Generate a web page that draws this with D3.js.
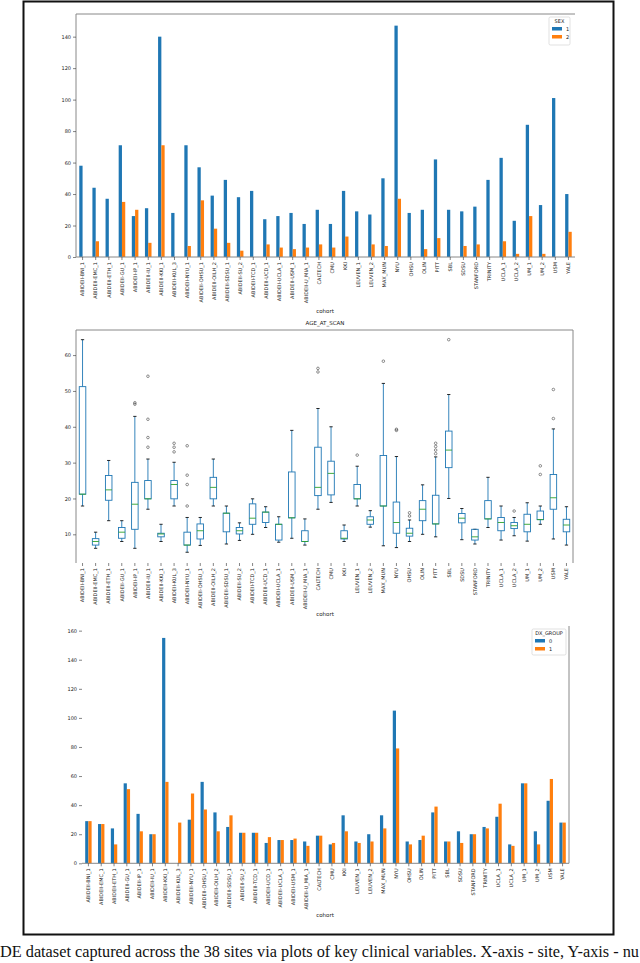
<!DOCTYPE html>
<html>
<head>
<meta charset="utf-8">
<script src="https://cdn.jsdelivr.net/npm/d3@7"></script>
<style>
  body { margin: 0; background: #fff; }
  svg text { font-family: "DejaVu Sans", sans-serif; }
</style>
</head>
<body>
<script>
// sites (x categories shared by the three panels)
const sites = ["ABIDEII-BNI_1","ABIDEII-EMC_1","ABIDEII-ETH_1","ABIDEII-GU_1","ABIDEII-IP_1","ABIDEII-IU_1",
  "ABIDEII-KKI_1","ABIDEII-KUL_3","ABIDEII-NYU_1","ABIDEII-OHSU_1","ABIDEII-OILH_2","ABIDEII-SDSU_1",
  "ABIDEII-SU_2","ABIDEII-TCD_1","ABIDEII-UCD_1","ABIDEII-UCLA_1","ABIDEII-USM_1","ABIDEII-U_MIA_1",
  "CALTECH","CMU","KKI","LEUVEN_1","LEUVEN_2","MAX_MUN","NYU","OHSU","OLIN","PITT","SBL","SDSU",
  "STANFORD","TRINITY","UCLA_1","UCLA_2","UM_1","UM_2","USM","YALE"];

// SEX counts
const sex1 = [58,44,37,71,26,31,140,28,71,57,39,49,38,42,24,26,28,21,30,21,42,29,27,50,147,28,30,62,30,29,32,49,63,23,84,33,101,40];
const sex2 = [0,10,0,35,30,9,71,0,7,36,18,9,4,0,8,6,5,6,8,6,13,0,8,7,37,0,5,12,0,7,8,0,10,2,26,2,0,16];

// DX_GROUP counts
const dx0 = [29,27,24,55,34,20,155,0,30,56,35,25,21,21,14,16,16,15,19,13,33,15,20,33,105,15,16,35,15,22,20,25,32,13,55,22,43,28];
const dx1 = [29,27,13,51,22,20,56,28,48,37,22,33,21,21,18,16,17,12,19,14,22,14,15,24,79,13,19,39,15,14,20,24,41,12,55,13,58,28];

// AGE_AT_SCAN box statistics
const ageLo  = [17.9,6.1,13.8,8.0,6.1,17.0,8.0,17.9,5.0,6.9,17.9,7.3,8.3,10.0,11.9,7.8,8.9,7.0,17.0,18.9,8.0,17.9,12.0,6.8,6.3,8.0,10.0,9.3,20.0,8.5,7.3,11.9,8.4,9.6,8.1,12.8,8.7,7.0];
const ageQ1  = [21.2,7.0,19.5,8.9,11.4,19.9,9.3,19.9,7.0,8.7,19.9,10.7,10.1,12.8,13.3,8.4,14.6,8.0,20.8,21.0,8.7,19.9,12.8,17.9,10.3,9.5,13.8,12.9,28.6,13.2,8.4,14.3,11.0,11.6,10.7,14.1,17.0,10.7];
const ageMed = [21.2,8.0,22.4,10.6,18.4,19.9,10.1,23.9,7.0,11.0,23.1,15.9,11.0,14.5,16.2,12.8,14.6,8.0,23.1,27.0,8.9,19.9,14.0,17.9,13.3,10.3,17.0,12.9,33.5,14.5,9.3,14.3,13.3,12.4,12.8,14.1,20.2,12.6];
const ageQ3  = [51.2,8.8,26.4,11.9,24.5,25.0,10.3,25.0,10.6,12.9,25.9,15.9,11.9,18.5,16.2,12.8,27.4,11.0,34.3,30.4,11.0,23.9,14.9,32.0,19.0,11.7,19.4,20.9,38.8,15.8,11.4,19.4,14.7,13.3,15.6,16.5,26.7,14.2];
const ageHi  = [64.3,10.6,30.6,13.8,42.9,31.0,12.8,30.1,14.7,14.7,31.0,17.9,13.2,19.9,17.7,14.9,39.0,14.3,45.1,40.0,12.6,29.0,16.6,52.1,31.7,14.0,23.8,31.6,49.0,17.2,11.4,25.9,17.9,14.7,18.8,17.9,39.4,17.7];
const ageOut = [[],[],[],[],[46.3,46.7],[54.1,42.1,37.0,34.3],[],[35.4,34.3,33.0],[34.7,26.5,23.9,17.9],[],[],[],[],[],[],[],[],[],
  [56.3,55.3],[],[],[32.1],[],[58.3],[39.0,39.3],[15.1,16.0],[],[35.4,34.5,33.5,32.5],[64.3],[],[],[],[],[16.5],[],[29.1,26.7],[42.3,50.4],[]];

const sexTicks = [0,20,40,60,80,100,120,140];
const ageTicks = [10,20,30,40,50,60];
const dxTicks = [0,20,40,60,80,100,120,140,160];

const blue = "#1f77b4", orange = "#ff7f0e", green = "#2ca02c", spine = "#888";

const svg = d3.select("body").append("svg")
  .attr("width", 640).attr("height", 963);
svg.append("rect").attr("width", 640).attr("height", 963).attr("fill", "#fff");

// figure frame
svg.append("rect").attr("x", 23.5).attr("y", 1.5).attr("width", 590).attr("height", 933)
  .attr("fill", "none").attr("stroke", "#111").attr("stroke-width", 2);

function yAxis(g, y, left, ticks) {
  const ax = g.append("g").attr("transform", `translate(${left},0)`)
    .call(d3.axisLeft(y).tickValues(ticks).tickSize(3).tickPadding(2));
  ax.select(".domain").remove();
  ax.selectAll("text").attr("font-size", 5).attr("fill", "#222");
  ax.selectAll("line").attr("stroke", "#333").attr("stroke-width", 0.6);
}

function xAxis(g, x, bottom) {
  const ax = g.append("g").attr("transform", `translate(0,${bottom})`)
    .call(d3.axisBottom(x).tickSize(3).tickPadding(2));
  ax.select(".domain").remove();
  ax.selectAll("line").attr("stroke", "#333").attr("stroke-width", 0.6);
  ax.selectAll("text")
    .attr("font-size", 5).attr("fill", "#222")
    .attr("transform", "rotate(-90)")
    .attr("text-anchor", "end")
    .attr("x", -5).attr("y", 0).attr("dy", "0.35em");
}

function spines(g, box, which) {
  const [l, t, r, b] = box;
  const seg = { left: [l, t, l, b], right: [r, t, r, b], top: [l, t, r, t], bottom: [l, b, r, b] };
  which.forEach(k => {
    const s = seg[k];
    g.append("line").attr("x1", s[0]).attr("y1", s[1]).attr("x2", s[2]).attr("y2", s[3])
      .attr("stroke", spine).attr("stroke-width", 1);
  });
}

function legend(g, x, y, w, h, title, labels) {
  g.append("rect").attr("x", x).attr("y", y).attr("width", w).attr("height", h).attr("rx", 1.5)
    .attr("fill", "#fff").attr("stroke", "#ccc").attr("stroke-width", 0.6);
  g.append("text").attr("x", x + w / 2).attr("y", y + 5.5).attr("text-anchor", "middle")
    .attr("font-size", 5).attr("fill", "#222").text(title);
  [blue, orange].forEach((c, i) => {
    g.append("rect").attr("x", x + 3).attr("y", y + 10 + i * 8).attr("width", 10).attr("height", 3.5).attr("fill", c);
    g.append("text").attr("x", x + 17).attr("y", y + 13.5 + i * 8)
      .attr("font-size", 5).attr("fill", "#222").text(labels[i]);
  });
}

function barChart(o) {
  const g = svg.append("g");
  const x = d3.scaleBand().domain(sites).range([o.left, o.right]);
  const y = d3.scaleLinear().domain([0, o.ymax]).range([o.bottom, o.top]);
  const bw = x.bandwidth();
  [[o.a, blue, 0.25], [o.b, orange, 0.5]].forEach(([vals, col, off]) => {
    g.selectAll(null).data(vals).enter().append("rect")
      .attr("x", (d, i) => x(sites[i]) + bw * off)
      .attr("y", d => y(d))
      .attr("width", bw * 0.25)
      .attr("height", d => y(0) - y(d))
      .attr("fill", col);
  });
  spines(g, [o.left, o.top, o.right, o.bottom], o.spines);
  yAxis(g, y, o.left, o.ticks);
  xAxis(g, x, o.bottom);
  g.append("text").attr("x", 325).attr("y", o.labelY).attr("text-anchor", "middle")
    .attr("font-size", 5.5).attr("fill", "#222").text("cohort");
  legend(g, o.lx, o.ly, o.lw, o.lh, o.ltitle, o.llabels);
}

barChart({ left: 76, right: 575, top: 14, bottom: 257, ymax: 154.4, a: sex1, b: sex2, ticks: sexTicks,
  spines: ["left", "top", "bottom"], labelY: 313, lx: 549, ly: 17, lw: 21, lh: 28, ltitle: "SEX", llabels: ["1", "2"] });

barChart({ left: 82, right: 569, top: 626, bottom: 863.3, ymax: 163.2, a: dx0, b: dx1, ticks: dxTicks,
  spines: ["right", "bottom"], labelY: 917, lx: 532, ly: 629, lw: 34, lh: 26, ltitle: "DX_GROUP", llabels: ["0", "1"] });

// AGE_AT_SCAN box plot
(function () {
  const left = 76, right = 573, top = 330, bottom = 563;
  const g = svg.append("g");
  const x = d3.scaleBand().domain(sites).range([left, right]);
  const y = d3.scaleLinear().domain([2.0, 67.0]).range([bottom, top]);
  const bw = x.bandwidth();
  const cx = i => x(sites[i]) + bw / 2;
  const bx = bw * 0.5, cap = bw * 0.25;

  sites.forEach((s, i) => {
    const c = cx(i);
    // whiskers
    g.append("line").attr("x1", c).attr("x2", c).attr("y1", y(ageQ3[i])).attr("y2", y(ageHi[i]))
      .attr("stroke", blue).attr("stroke-width", 0.9);
    g.append("line").attr("x1", c).attr("x2", c).attr("y1", y(ageQ1[i])).attr("y2", y(ageLo[i]))
      .attr("stroke", blue).attr("stroke-width", 0.9);
    // caps
    [ageHi[i], ageLo[i]].forEach(v => {
      g.append("line").attr("x1", c - cap / 2).attr("x2", c + cap / 2).attr("y1", y(v)).attr("y2", y(v))
        .attr("stroke", "#111").attr("stroke-width", 0.9);
    });
    // box
    g.append("rect").attr("x", c - bx / 2).attr("y", y(ageQ3[i]))
      .attr("width", bx).attr("height", Math.max(0.5, y(ageQ1[i]) - y(ageQ3[i])))
      .attr("fill", "none").attr("stroke", blue).attr("stroke-width", 0.9);
    // median
    g.append("line").attr("x1", c - bx / 2).attr("x2", c + bx / 2).attr("y1", y(ageMed[i])).attr("y2", y(ageMed[i]))
      .attr("stroke", green).attr("stroke-width", 0.9);
    // fliers
    ageOut[i].forEach(v => {
      g.append("circle").attr("cx", c).attr("cy", y(v)).attr("r", 1.3)
        .attr("fill", "none").attr("stroke", "#222").attr("stroke-width", 0.5);
    });
  });

  spines(g, [left, top, right, bottom], ["left", "top", "right"]);
  yAxis(g, y, left, ageTicks);
  xAxis(g, x, bottom);
  g.append("text").attr("x", 325).attr("y", 325).attr("text-anchor", "middle")
    .attr("font-size", 5.5).attr("fill", "#222").text("AGE_AT_SCAN");
  g.append("text").attr("x", 325).attr("y", 616).attr("text-anchor", "middle")
    .attr("font-size", 5.5).attr("fill", "#222").text("cohort");
})();

// caption fragment, spread across the full page width as in the original
svg.append("text").attr("x", 0).attr("y", 957)
  .style("font-family", "'Liberation Serif', 'DejaVu Serif', serif")
  .attr("font-size", 16).attr("fill", "#111")
  .attr("textLength", 639).attr("lengthAdjust", "spacingAndGlyphs")
  .text("DE dataset captured across the 38 sites via plots of key clinical variables. X-axis - site, Y-axis - nu");
</script>
</body>
</html>
